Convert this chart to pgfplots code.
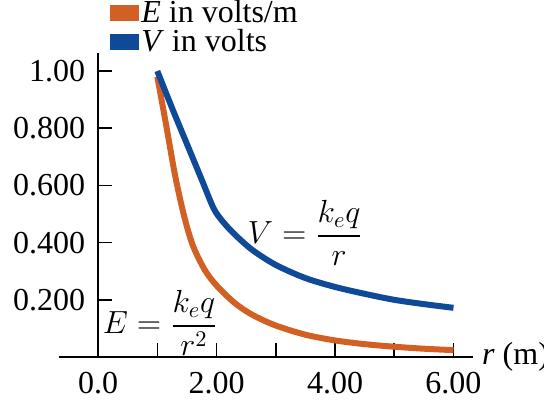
\RequirePackage{fix-cm}
\documentclass[border=0pt]{standalone}
\usepackage{amsmath}
\usepackage{fontspec}
\setmainfont{Liberation Serif}
\usepackage{pgfplots}
\pgfplotsset{compat=1.18}
\definecolor{eorange}{RGB}{210,96,36}
\definecolor{vblue}{RGB}{14,74,152}

\begin{document}
\begin{tikzpicture}[font=\fontsize{16}{19}\selectfont]
  \begin{axis}[
      at={(29.5pt,23pt)}, anchor=south west,
      scale only axis, width=207pt, height=152pt,
      xmin=-0.66, xmax=6.33, ymin=0, ymax=1.063,
      axis lines=middle,
      axis line style={line width=0.75pt, -},
      clip=false,
      hide obscured x ticks=false,
      hide obscured y ticks=false,
      tick align=inside,
      major tick length=7pt,
      tick style={line width=0.75pt, black},
      xtick={0,1,2,3,4,5,6},
      xticklabels={0.0,,2.00,,4.00,,6.00},
      ytick={0.2,0.4,0.6,0.8,1.0},
      yticklabels={0.200,0.400,0.600,0.800,1.00},
      xticklabel style={anchor=north, yshift=-4pt},
      yticklabel style={anchor=east, xshift=-3pt},
      xlabel={\textit{r} (m)},
      every axis x label/.style={at={(current axis.right of origin)}, anchor=west, xshift=1pt},
      legend image code/.code={\fill[#1] (0pt,-2.5pt) rectangle (11.5pt,2.5pt);},
      legend style={draw=none, fill=none, inner sep=0pt,
        at={(axis cs:0.2,1.255)}, anchor=north west,
        nodes={inner sep=1pt}, row sep=0pt},
      legend cell align=left,
    ]
    \addplot[color=eorange, line width=3pt, smooth] coordinates {
      (1.0,0.98) (1.15,0.81) (1.3,0.635) (1.45,0.495) (1.6,0.39)
      (1.8,0.305) (2.0,0.25) (2.3,0.19) (2.6,0.148) (3.0,0.11)
      (3.5,0.078) (4.0,0.058) (4.5,0.045) (5.0,0.036) (5.5,0.029) (6.0,0.024)
    };
    \addlegendentry{\textit{E} in volts/m}
    \addplot[color=vblue, line width=3pt, smooth] coordinates {
      (1.0,1.0) (1.25,0.87) (1.5,0.745) (1.75,0.62) (1.95,0.52)
      (2.1,0.475) (2.3,0.43) (2.6,0.375) (3.0,0.322) (3.5,0.276) (4.0,0.245)
      (4.5,0.221) (5.0,0.2) (5.5,0.185) (6.0,0.172)
    };
    \addlegendentry{\textit{V} in volts}
    \node at (axis cs:3.5,0.434) {$V = \dfrac{k_e q}{r}$};
    \node at (axis cs:1.05,0.119) {$E = \dfrac{k_e q}{r^2}$};
  \end{axis}
  \pgfresetboundingbox
  \useasboundingbox (0,0) rectangle (272pt,201.5pt);
\end{tikzpicture}
\end{document}
